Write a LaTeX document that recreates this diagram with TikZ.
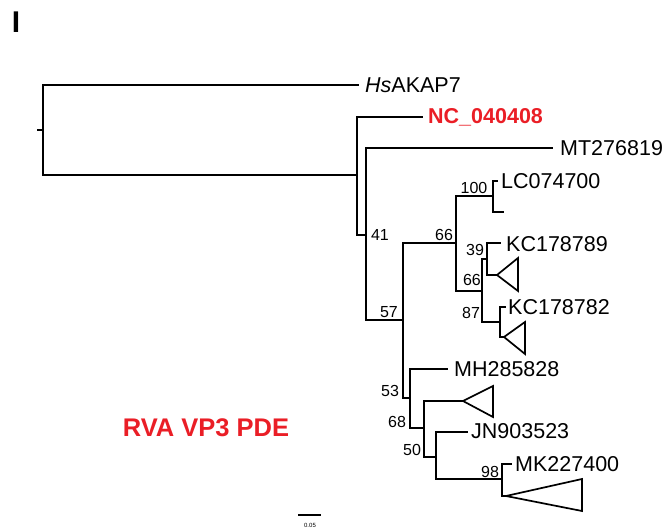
\documentclass[tikz,border=0pt]{standalone}
\usepackage{fontspec}
\setmainfont{Liberation Sans}
\definecolor{rvared}{RGB}{234,30,38}
\begin{document}
\begin{tikzpicture}[x=1pt,y=-1pt,
  br/.style={line width=1.7pt,line cap=rect,line join=miter},
  leaf/.style={anchor=west,inner sep=0pt,font=\fontsize{21.5}{22}\selectfont,text height=15.4pt,text depth=0pt},
  boot/.style={inner sep=0pt,font=\fontsize{16}{17}\selectfont},
  tri/.style={line width=1.7pt,line join=miter}]
\useasboundingbox (0,0) rectangle (665,529);
% panel label
\node[inner sep=0pt,font=\fontsize{30}{30}\bfseries\selectfont] (plabel) at (16,22) {I};
% internal nodes
\coordinate (root) at (43,130);
\coordinate (A) at (357,175);
\coordinate (B) at (366,235);
\coordinate (C) at (403,320);
\coordinate (E) at (456,243);
\coordinate (F) at (493,196);
\coordinate (G) at (482,291);
\coordinate (H) at (487,259);
\coordinate (I) at (500,322);
\coordinate (D) at (410,398);
\coordinate (J) at (424,428);
\coordinate (K) at (436,457);
\coordinate (L) at (502,479);
% leaf ends
\coordinate (hsE) at (358,85);
\coordinate (ncE) at (422,117);
\coordinate (mtE) at (552,148);
\coordinate (lcE) at (497,181);
\coordinate (fE) at (503,212);
\coordinate (k9E) at (500,243);
\coordinate (k2E) at (505,307);
\coordinate (mhE) at (447,369);
\coordinate (jnE) at (467,432);
\coordinate (mkE) at (511,464);
\coordinate (t1) at (497,275);
\coordinate (t2) at (504,337);
\coordinate (t3) at (463,401);
\coordinate (t4) at (506,496);
\coordinate (rt) at (38,130);
% tree
\draw[br] (rt) -- (root);
\draw[br] (hsE) -- (hsE -| root) -- (A -| root) -- (A);
\draw[br] (ncE) -- (ncE -| A) -- (A |- B) -- (B);
\draw[br] (mtE) -- (mtE -| B) -- (B |- C) -- (C);
\draw[br] (E) -- (E -| C) -- (C |- D) -- (D);
\draw[br] (F) -- (F -| E) -- (E |- G) -- (G);
\draw[br] (lcE) -- (lcE -| F) -- (F |- fE) -- (fE);
\draw[br] (H) -- (H -| G) -- (G |- I) -- (I);
\draw[br] (k9E) -- (k9E -| H) -- (H |- t1) -- (t1);
\draw[br] (k2E) -- (k2E -| I) -- (I |- t2) -- (t2);
\draw[br] (mhE) -- (mhE -| D) -- (D |- J) -- (J);
\draw[br] (t3) -- (t3 -| J) -- (J |- K) -- (K);
\draw[br] (jnE) -- (jnE -| K) -- (K |- L) -- (L);
\draw[br] (mkE) -- (mkE -| L) -- (L |- t4) -- (t4);
% collapsed clades
\draw[tri] (t1) -- (518,258) -- (518,291) -- cycle;
\draw[tri] (t2) -- (525,322) -- (525,354) -- cycle;
\draw[tri] (t3) -- (493,386) -- (493,417) -- cycle;
\draw[tri] (t4) -- (582,479) -- (582,511) -- cycle;
% leaf labels
\node[leaf] (hs) at (365,85) {\textit{Hs}AKAP7};
\node[leaf,text=rvared,font=\fontsize{21.5}{22}\bfseries\selectfont] (nc) at (428,116) {NC\_040408};
\node[leaf] (mt) at (560,148) {MT276819};
\node[leaf] (lc) at (501,181) {LC074700};
\node[leaf] (k9) at (506,244) {KC178789};
\node[leaf] (k2) at (508,307) {KC178782};
\node[leaf] (mh) at (454,369) {MH285828};
\node[leaf] (jn) at (471,431) {JN903523};
\node[leaf] (mk) at (515,464) {MK227400};
% bootstrap values
\node[boot] (b41) at (380,235) {41};
\node[boot] (b57) at (389,312) {57};
\node[boot] (b66a) at (444,235) {66};
\node[boot] (b100) at (474,188) {100};
\node[boot] (b39) at (475,250) {39};
\node[boot] (b66b) at (472,280) {66};
\node[boot] (b87) at (471,313) {87};
\node[boot] (b53) at (390,391) {53};
\node[boot] (b68) at (397,422) {68};
\node[boot] (b50) at (412,450) {50};
\node[boot] (b98) at (490,472) {98};
% title
\node[inner sep=0pt,text=rvared,font=\fontsize{25.5}{26}\bfseries\selectfont] (title) at (206,428) {RVA VP3 PDE};
% scale bar
\coordinate (sbL) at (298,515);
\coordinate (sbR) at (321,515);
\draw[line width=1.3pt] (sbL) -- (sbR);
\node[inner sep=0pt,font=\fontsize{6}{6}\selectfont] (sbt) at (310,525) {0.05};
\end{tikzpicture}
\end{document}
